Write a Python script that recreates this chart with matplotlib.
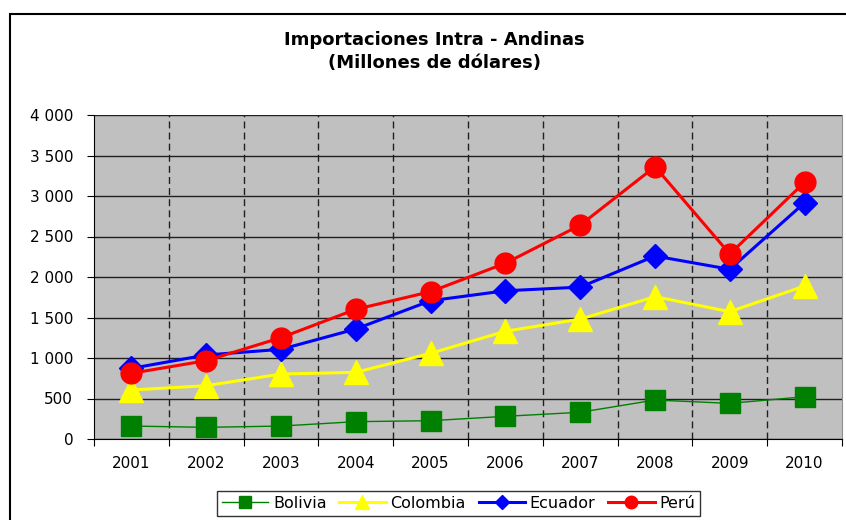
import matplotlib
matplotlib.use('Agg')
import matplotlib.pyplot as plt
from matplotlib.lines import Line2D
from matplotlib.patches import Rectangle
from matplotlib.ticker import FuncFormatter

plt.rcParams['font.family'] = ['DejaVu Sans']

years = ['2001', '2002', '2003', '2004', '2005', '2006', '2007', '2008', '2009', '2010']
bolivia = [160, 144, 160, 214, 226, 280, 330, 481, 440, 522]
colombia = [605, 658, 802, 823, 1058, 1330, 1480, 1757, 1572, 1889]
ecuador = [872, 1037, 1107, 1358, 1707, 1830, 1875, 2259, 2095, 2917]
peru = [811, 967, 1251, 1601, 1819, 2170, 2640, 3362, 2284, 3169]

fig = plt.figure(figsize=(8.46, 5.2), dpi=100)
W, H = 846, 520

# marco exterior del grafico (sale por derecha y abajo)
fig.patches.append(Rectangle((9.5 / W, -0.05), 1.2, 1.05 - 14 / H, transform=fig.transFigure,
                             fill=False, edgecolor='black', linewidth=1.5))

ax = fig.add_axes([94 / W, 1 - 439 / H, (842 - 94) / W, (439 - 115) / H])
ax.set_facecolor('#C0C0C0')

x = list(range(len(years)))
ax.plot(x, bolivia, color='#008000', linewidth=1, marker='s', markersize=15,
        markerfacecolor='#008000', markeredgecolor='#008000', label='Bolivia', zorder=3)
ax.plot(x, colombia, color='#FFFF00', linewidth=2.2, marker='^', markersize=17,
        markerfacecolor='#FFFF00', markeredgecolor='#FFFF00', label='Colombia', zorder=4)
ax.plot(x, ecuador, color='#0000FF', linewidth=2.2, marker='D', markersize=12,
        markerfacecolor='#0000FF', markeredgecolor='#0000FF', label='Ecuador', zorder=5)
ax.plot(x, peru, color='#FF0000', linewidth=2.2, marker='o', markersize=15,
        markerfacecolor='#FF0000', markeredgecolor='#FF0000', label='Perú', zorder=6)

ax.set_xlim(-0.5, len(years) - 0.5)
ax.set_ylim(0, 4000)
ax.set_yticks(range(0, 4001, 500))
ax.yaxis.set_major_formatter(FuncFormatter(lambda v, p: f'{v:,.0f}'.replace(',', ' ')))
ax.grid(axis='y', color='#202020', linewidth=1, linestyle='-', zorder=1)

# limites de categoria
bounds = [i - 0.5 for i in range(len(years) + 1)]
ax.set_xticks(bounds)
ax.set_xticklabels([])
ax.set_xticks(x, minor=True)
ax.set_xticklabels(years, minor=True)
ax.tick_params(axis='x', which='minor', length=0, pad=12, labelsize=11)
ax.tick_params(axis='x', which='major', length=5, direction='out', color='black')
ax.tick_params(axis='y', length=5, direction='out', labelsize=11, pad=10)
for b in bounds[1:-1]:
    ax.axvline(b, color='#202020', linewidth=1, linestyle=(0, (5, 3)), zorder=2)
ax.set_axisbelow(True)

for s in ['left', 'bottom']:
    ax.spines[s].set_color('black')
ax.spines['top'].set_visible(False)
ax.spines['right'].set_color('#909090')

fig.text(434 / W, 1 - 40 / H, 'Importaciones Intra - Andinas', ha='center', va='center',
         fontsize=13, fontweight='bold')
fig.text(434 / W, 1 - 63 / H, '(Millones de dólares)', ha='center', va='center',
         fontsize=13, fontweight='bold')

handles = [
    Line2D([], [], color='#008000', linewidth=1, marker='s', markersize=8),
    Line2D([], [], color='#FFFF00', linewidth=2.2, marker='^', markersize=10),
    Line2D([], [], color='#0000FF', linewidth=2.2, marker='D', markersize=7),
    Line2D([], [], color='#FF0000', linewidth=2.2, marker='o', markersize=9),
]
leg = fig.legend(handles, ['Bolivia', 'Colombia', 'Ecuador', 'Perú'], loc='upper left',
                 bbox_to_anchor=(217 / W, 1 - 491 / H), ncol=4, fontsize=11.5,
                 frameon=True, fancybox=False, handlelength=2.9, handletextpad=0.3,
                 columnspacing=0.8, borderpad=0.3, borderaxespad=0)
leg.get_frame().set_edgecolor('black')
leg.get_frame().set_linewidth(1)

fig.savefig('out.png', dpi=100)
